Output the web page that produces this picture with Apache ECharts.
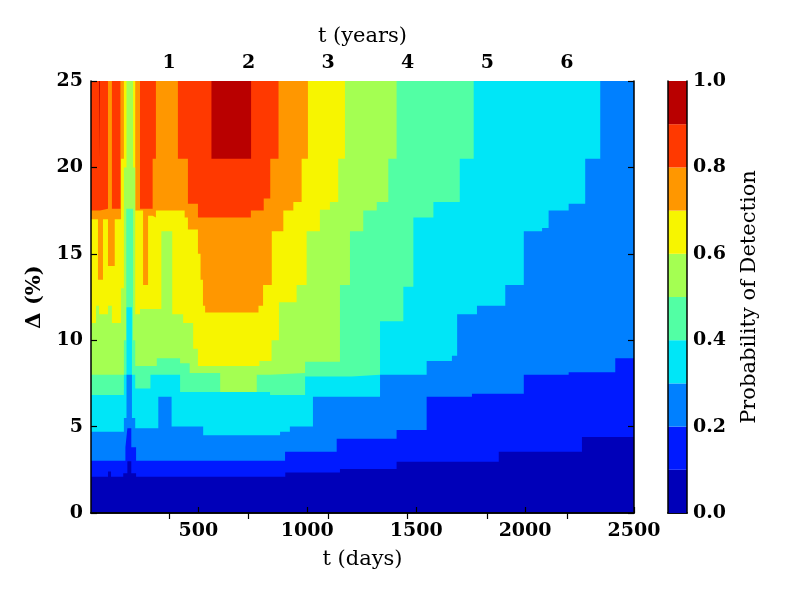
<!DOCTYPE html>
<html>
<head>
<meta charset="utf-8">
<script src="https://cdn.jsdelivr.net/npm/echarts@6/dist/echarts.min.js"></script>
<style>html,body{margin:0;padding:0;background:#fff}#c{width:800px;height:600px}</style>
</head>
<body>
<div id="c"></div>
<script>
// contour boundaries: [t (days), Delta (%)] where the probability crosses each level (step-wise)
const b10 = [[7,2.1],[85,2.4],[99,2.1],[155,2.3],[174,3.0],[192,2.3],[214,2.1],[899,2.35],[1150,2.55],[1410,2.97],[1879,3.55],[2261,4.4]];
const b20 = [[7,3.03],[165,3.8],[174,4.9],[192,3.8],[214,3.03],[898,3.55],[1135,4.3],[1410,4.8],[1548,6.73],[1756,6.9],[1994,8.0],[2200,8.15],[2414,8.95]];
const b30 = [[7,4.7],[158,5.5],[170,8.0],[195,5.5],[210,4.9],[316,6.73],[377,5.0],[522,4.5],[875,4.7],[920,5.0],[1026,6.73],[1334,8.0],[1548,8.8],[1664,9.1],[1688,11.5],[1779,12.0],[1909,13.2],[1994,16.3],[2078,16.5],[2108,17.5],[2200,17.9],[2276,20.5],[2345,25]];
const b40 = [[7,6.83],[158,8.0],[170,11.9],[195,8.0],[210,7.2],[280,8.0],[416,7.0],[829,6.83],[990,7.9],[1204,8.0],[1334,11.1],[1441,13.1],[1487,17.1],[1579,18.0],[1700,20.5],[1764,25]];
const b50 = [[7,8.0],[158,10.0],[169,17.6],[200,10.0],[210,8.5],[309,8.95],[416,8.66],[460,8.1],[600,7.0],[768,8.0],[829,8.1],[990,8.75],[1150,13.2],[1196,16.3],[1257,17.5],[1319,18.0],[1372,20.5],[1410,25]];
const b60 = [[7,11.0],[30,12.0],[44,11.5],[85,12.0],[103,11.0],[145,13.0],[158,20.0],[170,25],[200,20.0],[210,11.5],[232,11.8],[330,16.3],[380,11.5],[430,11.0],[476,9.5],[498,8.5],[780,8.8],[836,10.0],[870,12.2],[951,13.2],[997,16.3],[1058,17.55],[1104,18.0],[1142,20.5],[1173,25]];
const b70 = [[7,17.0],[39,13.5],[62,17.0],[85,14.3],[116,17.0],[145,20.5],[158,25],[210,17.5],[246,13.2],[269,17.2],[290,17.1],[305,17.5],[437,17.1],[452,16.4],[498,15.0],[510,13.5],[521,12.0],[531,11.6],[776,12.0],[797,13.2],[837,16.3],[890,17.5],[936,18.0],[974,20.5],[1003,25]];
const b80 = [[7,17.5],[48,17.6],[85,25],[103,17.6],[142,25],[232,17.6],[290,20.5],[305,25],[406,20.5],[452,17.9],[498,17.1],[741,17.5],[800,18.2],[830,20.5],[868,25]];
const b90 = [[7,25],[44,20.5],[48,25],[560,20.5],[742,25]];

const tMin = 7, tMax = 2500, dMin = 0, dMax = 25;
const dayTicks = [500, 1000, 1500, 2000, 2500];
const yearTicks = [1, 2, 3, 4, 5, 6];
const deltaInterval = 5;
const probTicks = [0.0, 0.2, 0.4, 0.6, 0.8, 1.0];
const levelStep = 0.1;
const bandColors = ['#0000B9','#001AFF','#0080FF','#00E6F7','#52FFA4','#A4FF52','#F7F500','#FF9700','#FF3900','#B90000'];

const FONT = "'DejaVu Serif', serif";
const bounds = [b10,b20,b30,b40,b50,b60,b70,b80,b90];
const withEnd = a => a.concat([[tMax, a[a.length-1][1]]]);
const area = (pts, color) => ({
  type: 'line', xAxisIndex: 0, yAxisIndex: 0, step: 'end', symbol: 'none', silent: true,
  lineStyle: { width: 0, opacity: 0 }, areaStyle: { color: color, opacity: 1, origin: 'start' },
  data: withEnd(pts), animation: false
});

const series = [];
series.push(area([[tMin, dMax]], bandColors[9]));
for (let j = 8; j >= 0; j--) series.push(area(bounds[j], bandColors[j]));
bandColors.forEach((c, j) => series.push({
  type: 'bar', xAxisIndex: 2, yAxisIndex: 2, stack: 'cb', barWidth: '100%', silent: true,
  data: [levelStep], itemStyle: { color: c }, animation: false
}));

const lineK = { show: true, lineStyle: { color: '#000', width: 1.5 } };
const tickStyle = { lineStyle: { color: '#000', width: 1.2 } };
const boldLbl = { color: '#000', fontFamily: FONT, fontWeight: 'bold', fontSize: 19 };
const nameTxt = { color: '#000', fontFamily: FONT, fontSize: 21 };
const yearDays = yearTicks.map(y => y * 365.25);

const option = {
  backgroundColor: '#fff',
  animation: false,
  grid: [
    { left: 91, right: 166, top: 81, bottom: 87 },
    { left: 668, width: 19, top: 81, bottom: 87 }
  ],
  xAxis: [
    { gridIndex: 0, type: 'value', min: tMin, max: tMax, position: 'bottom', z: 10,
      axisLine: lineK, splitLine: { show: false },
      axisTick: Object.assign({ inside: true, length: 6, customValues: dayTicks }, tickStyle),
      axisLabel: Object.assign({ margin: 9, customValues: dayTicks, formatter: v => String(v) }, boldLbl),
      name: 't (days)', nameLocation: 'middle', nameGap: 36, nameTextStyle: nameTxt },
    { gridIndex: 0, type: 'value', min: tMin, max: tMax, position: 'top', z: 10,
      axisLine: lineK, splitLine: { show: false },
      axisTick: Object.assign({ inside: true, length: 6, customValues: yearDays }, tickStyle),
      axisLabel: Object.assign({ margin: 8, customValues: yearDays,
        formatter: v => String(Math.round(v / 365.25)) }, boldLbl),
      name: 't (years)', nameLocation: 'middle', nameGap: 34, nameTextStyle: nameTxt },
    { gridIndex: 1, type: 'category', data: ['p'], position: 'bottom', axisLine: lineK,
      axisTick: { show: false }, axisLabel: { show: false }, splitLine: { show: false } },
    { gridIndex: 1, type: 'category', data: ['p'], position: 'top', axisLine: lineK,
      axisTick: { show: false }, axisLabel: { show: false }, splitLine: { show: false } }
  ],
  yAxis: [
    { gridIndex: 0, type: 'value', min: dMin, max: dMax, interval: deltaInterval, position: 'left', z: 10,
      axisLine: lineK, splitLine: { show: false },
      axisTick: Object.assign({ inside: true, length: 6 }, tickStyle),
      axisLabel: Object.assign({ margin: 8, formatter: v => String(v) }, boldLbl),
      name: 'Δ (%)', nameLocation: 'middle', nameGap: 46, nameRotate: 90,
      nameTextStyle: Object.assign({}, nameTxt, { fontWeight: 'bold' }) },
    { gridIndex: 0, type: 'value', min: dMin, max: dMax, interval: deltaInterval, position: 'right', z: 10,
      axisLine: lineK, splitLine: { show: false },
      axisTick: Object.assign({ inside: true, length: 6 }, tickStyle), axisLabel: { show: false } },
    { gridIndex: 1, type: 'value', min: 0, max: 1, position: 'right', z: 10,
      axisLine: lineK, splitLine: { show: false },
      axisTick: Object.assign({ inside: true, length: 4, customValues: probTicks }, tickStyle),
      axisLabel: Object.assign({ margin: 6, customValues: probTicks, formatter: v => v.toFixed(1) }, boldLbl),
      name: 'Probability of Detection', nameLocation: 'middle', nameGap: 52, nameRotate: 90,
      nameTextStyle: nameTxt },
    { gridIndex: 1, type: 'value', min: 0, max: 1, position: 'left', z: 10,
      axisLine: lineK, splitLine: { show: false }, axisTick: { show: false }, axisLabel: { show: false } }
  ],
  series: series
};

const chart = echarts.init(document.getElementById('c'), null, { renderer: 'canvas' });
chart.setOption(option);
</script>
</body>
</html>
